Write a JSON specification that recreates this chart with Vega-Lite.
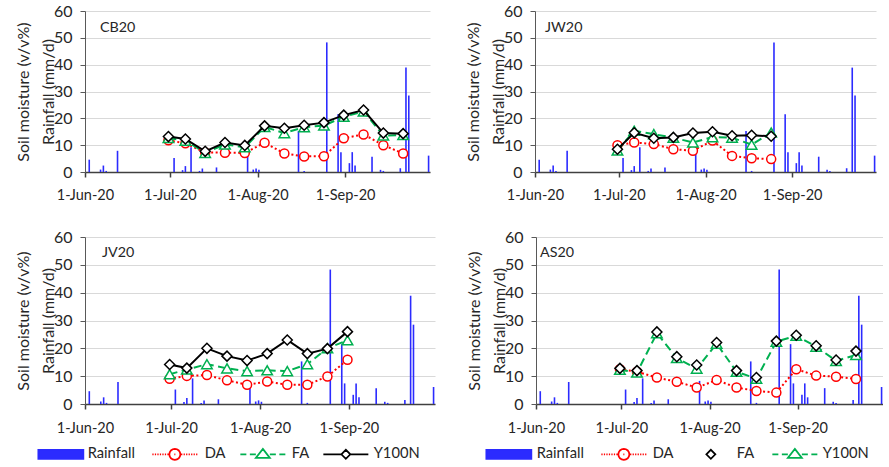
{
"$schema": "https://vega.github.io/schema/vega-lite/v6.json",
"padding": {"left": 15, "top": 3, "right": 0, "bottom": 0},
"config": {
 "font": "Lato",
 "view": {"stroke": null},
 "axis": {"labelFont": "Lato", "titleFont": "Lato", "labelColor": "#262626", "titleColor": "#262626"},
 "legend": {"labelFont": "Lato", "labelColor": "#262626", "labelFontSize": 14.7, "symbolSize": 100, "symbolStrokeWidth": 1.75, "orient": "none"},
 "title": {"font": "Lato", "color": "#262626"}
},
"datasets": {
 "rain": [
  {"date":"2020-06-02","value":4.6},{"date":"2020-06-06","value":0.9},{"date":"2020-06-07","value":2.4},{"date":"2020-06-08","value":0.4},{"date":"2020-06-12","value":7.9},
  {"date":"2020-07-02","value":5.2},{"date":"2020-07-05","value":0.7},{"date":"2020-07-06","value":2.2},{"date":"2020-07-08","value":9.2},{"date":"2020-07-11","value":0.4},
  {"date":"2020-07-12","value":1.3},{"date":"2020-07-17","value":1.7},{"date":"2020-07-28","value":8.3},{"date":"2020-07-30","value":0.9},{"date":"2020-07-31","value":1.3},
  {"date":"2020-08-01","value":0.8},{"date":"2020-08-15","value":15.3},{"date":"2020-08-17","value":0.4},{"date":"2020-08-25","value":48.3},{"date":"2020-08-29","value":21.5},
  {"date":"2020-08-30","value":7.4},{"date":"2020-09-02","value":3.3},{"date":"2020-09-03","value":7.4},{"date":"2020-09-04","value":2.4},{"date":"2020-09-10","value":5.7},
  {"date":"2020-09-13","value":0.8},{"date":"2020-09-14","value":0.4},{"date":"2020-09-20","value":1.4},{"date":"2020-09-22","value":38.9},{"date":"2020-09-23","value":28.5},
  {"date":"2020-09-30","value":6.1}
 ],
 "sm": [
  {"site":"CB20","series":"DA","date":"2020-06-30","value":11.8},{"site":"CB20","series":"DA","date":"2020-07-06","value":10.7},{"site":"CB20","series":"DA","date":"2020-07-13","value":7.3},{"site":"CB20","series":"DA","date":"2020-07-20","value":7.2},{"site":"CB20","series":"DA","date":"2020-07-27","value":7.1},{"site":"CB20","series":"DA","date":"2020-08-03","value":10.9},{"site":"CB20","series":"DA","date":"2020-08-10","value":6.9},{"site":"CB20","series":"DA","date":"2020-08-17","value":5.8},{"site":"CB20","series":"DA","date":"2020-08-24","value":5.9},{"site":"CB20","series":"DA","date":"2020-08-31","value":12.6},{"site":"CB20","series":"DA","date":"2020-09-07","value":14.0},{"site":"CB20","series":"DA","date":"2020-09-14","value":10.0},{"site":"CB20","series":"DA","date":"2020-09-21","value":6.9},
  {"site":"CB20","series":"FA","date":"2020-06-30","value":12.7},{"site":"CB20","series":"FA","date":"2020-07-06","value":11.7},{"site":"CB20","series":"FA","date":"2020-07-13","value":7.1},{"site":"CB20","series":"FA","date":"2020-07-20","value":10.3},{"site":"CB20","series":"FA","date":"2020-07-27","value":9.2},{"site":"CB20","series":"FA","date":"2020-08-03","value":16.8},{"site":"CB20","series":"FA","date":"2020-08-10","value":14.5},{"site":"CB20","series":"FA","date":"2020-08-17","value":16.7},{"site":"CB20","series":"FA","date":"2020-08-24","value":17.3},{"site":"CB20","series":"FA","date":"2020-08-31","value":20.6},{"site":"CB20","series":"FA","date":"2020-09-07","value":22.6},{"site":"CB20","series":"FA","date":"2020-09-14","value":13.6},{"site":"CB20","series":"FA","date":"2020-09-21","value":13.8},
  {"site":"CB20","series":"Y100N","date":"2020-06-30","value":13.2},{"site":"CB20","series":"Y100N","date":"2020-07-06","value":12.3},{"site":"CB20","series":"Y100N","date":"2020-07-13","value":7.7},{"site":"CB20","series":"Y100N","date":"2020-07-20","value":11.0},{"site":"CB20","series":"Y100N","date":"2020-07-27","value":9.9},{"site":"CB20","series":"Y100N","date":"2020-08-03","value":17.2},{"site":"CB20","series":"Y100N","date":"2020-08-10","value":16.3},{"site":"CB20","series":"Y100N","date":"2020-08-17","value":17.4},{"site":"CB20","series":"Y100N","date":"2020-08-24","value":18.4},{"site":"CB20","series":"Y100N","date":"2020-08-31","value":21.2},{"site":"CB20","series":"Y100N","date":"2020-09-07","value":23.1},{"site":"CB20","series":"Y100N","date":"2020-09-14","value":14.5},{"site":"CB20","series":"Y100N","date":"2020-09-21","value":14.3},
  {"site":"JW20","series":"DA","date":"2020-06-30","value":10.0},{"site":"JW20","series":"DA","date":"2020-07-06","value":11.0},{"site":"JW20","series":"DA","date":"2020-07-13","value":10.4},{"site":"JW20","series":"DA","date":"2020-07-20","value":8.5},{"site":"JW20","series":"DA","date":"2020-07-27","value":7.9},{"site":"JW20","series":"DA","date":"2020-08-03","value":11.7},{"site":"JW20","series":"DA","date":"2020-08-10","value":6.0},{"site":"JW20","series":"DA","date":"2020-08-17","value":5.1},{"site":"JW20","series":"DA","date":"2020-08-24","value":4.8},
  {"site":"JW20","series":"FA","date":"2020-06-30","value":8.0},{"site":"JW20","series":"FA","date":"2020-07-06","value":15.4},{"site":"JW20","series":"FA","date":"2020-07-13","value":14.1},{"site":"JW20","series":"FA","date":"2020-07-20","value":12.8},{"site":"JW20","series":"FA","date":"2020-07-27","value":11.0},{"site":"JW20","series":"FA","date":"2020-08-03","value":13.0},{"site":"JW20","series":"FA","date":"2020-08-10","value":12.8},{"site":"JW20","series":"FA","date":"2020-08-17","value":10.2},{"site":"JW20","series":"FA","date":"2020-08-24","value":14.7},
  {"site":"JW20","series":"Y100N","date":"2020-06-30","value":8.5},{"site":"JW20","series":"Y100N","date":"2020-07-06","value":14.6},{"site":"JW20","series":"Y100N","date":"2020-07-13","value":12.6},{"site":"JW20","series":"Y100N","date":"2020-07-20","value":12.9},{"site":"JW20","series":"Y100N","date":"2020-07-27","value":14.5},{"site":"JW20","series":"Y100N","date":"2020-08-03","value":15.0},{"site":"JW20","series":"Y100N","date":"2020-08-10","value":13.5},{"site":"JW20","series":"Y100N","date":"2020-08-17","value":13.7},{"site":"JW20","series":"Y100N","date":"2020-08-24","value":13.3},
  {"site":"JV20","series":"DA","date":"2020-06-30","value":9.1},{"site":"JV20","series":"DA","date":"2020-07-06","value":10.1},{"site":"JV20","series":"DA","date":"2020-07-13","value":10.4},{"site":"JV20","series":"DA","date":"2020-07-20","value":8.5},{"site":"JV20","series":"DA","date":"2020-07-27","value":6.9},{"site":"JV20","series":"DA","date":"2020-08-03","value":8.1},{"site":"JV20","series":"DA","date":"2020-08-10","value":6.9},{"site":"JV20","series":"DA","date":"2020-08-17","value":6.9},{"site":"JV20","series":"DA","date":"2020-08-24","value":9.9},{"site":"JV20","series":"DA","date":"2020-08-31","value":15.9},
  {"site":"JV20","series":"FA","date":"2020-06-30","value":10.7},{"site":"JV20","series":"FA","date":"2020-07-06","value":12.4},{"site":"JV20","series":"FA","date":"2020-07-13","value":14.3},{"site":"JV20","series":"FA","date":"2020-07-20","value":12.8},{"site":"JV20","series":"FA","date":"2020-07-27","value":11.8},{"site":"JV20","series":"FA","date":"2020-08-03","value":12.1},{"site":"JV20","series":"FA","date":"2020-08-10","value":11.8},{"site":"JV20","series":"FA","date":"2020-08-17","value":14.3},{"site":"JV20","series":"FA","date":"2020-08-24","value":20.0},{"site":"JV20","series":"FA","date":"2020-08-31","value":22.9},
  {"site":"JV20","series":"Y100N","date":"2020-06-30","value":14.2},{"site":"JV20","series":"Y100N","date":"2020-07-06","value":12.9},{"site":"JV20","series":"Y100N","date":"2020-07-13","value":20.0},{"site":"JV20","series":"Y100N","date":"2020-07-20","value":17.2},{"site":"JV20","series":"Y100N","date":"2020-07-27","value":15.6},{"site":"JV20","series":"Y100N","date":"2020-08-03","value":18.1},{"site":"JV20","series":"Y100N","date":"2020-08-10","value":23.0},{"site":"JV20","series":"Y100N","date":"2020-08-17","value":18.1},{"site":"JV20","series":"Y100N","date":"2020-08-24","value":19.9},{"site":"JV20","series":"Y100N","date":"2020-08-31","value":26.0},
  {"site":"AS20","series":"DA","date":"2020-06-30","value":12.5},{"site":"AS20","series":"DA","date":"2020-07-06","value":11.6},{"site":"AS20","series":"DA","date":"2020-07-13","value":9.5},{"site":"AS20","series":"DA","date":"2020-07-20","value":8.0},{"site":"AS20","series":"DA","date":"2020-07-27","value":5.9},{"site":"AS20","series":"DA","date":"2020-08-03","value":8.6},{"site":"AS20","series":"DA","date":"2020-08-10","value":5.9},{"site":"AS20","series":"DA","date":"2020-08-17","value":4.7},{"site":"AS20","series":"DA","date":"2020-08-24","value":4.1},{"site":"AS20","series":"DA","date":"2020-08-31","value":12.5},{"site":"AS20","series":"DA","date":"2020-09-07","value":10.2},{"site":"AS20","series":"DA","date":"2020-09-14","value":9.8},{"site":"AS20","series":"DA","date":"2020-09-21","value":9.0},
  {"site":"AS20","series":"FA","date":"2020-06-30","value":12.8},{"site":"AS20","series":"FA","date":"2020-07-06","value":12.0},{"site":"AS20","series":"FA","date":"2020-07-13","value":25.9},{"site":"AS20","series":"FA","date":"2020-07-20","value":17.0},{"site":"AS20","series":"FA","date":"2020-07-27","value":14.0},{"site":"AS20","series":"FA","date":"2020-08-03","value":22.1},{"site":"AS20","series":"FA","date":"2020-08-10","value":12.0},{"site":"AS20","series":"FA","date":"2020-08-17","value":9.5},{"site":"AS20","series":"FA","date":"2020-08-24","value":22.6},{"site":"AS20","series":"FA","date":"2020-08-31","value":24.7},{"site":"AS20","series":"FA","date":"2020-09-07","value":20.9},{"site":"AS20","series":"FA","date":"2020-09-14","value":15.8},{"site":"AS20","series":"FA","date":"2020-09-21","value":19.0},
  {"site":"AS20","series":"Y100N","date":"2020-06-30","value":12.3},{"site":"AS20","series":"Y100N","date":"2020-07-06","value":11.3},{"site":"AS20","series":"Y100N","date":"2020-07-13","value":25.4},{"site":"AS20","series":"Y100N","date":"2020-07-20","value":16.5},{"site":"AS20","series":"Y100N","date":"2020-07-27","value":12.7},{"site":"AS20","series":"Y100N","date":"2020-08-03","value":21.7},{"site":"AS20","series":"Y100N","date":"2020-08-10","value":11.6},{"site":"AS20","series":"Y100N","date":"2020-08-17","value":9.1},{"site":"AS20","series":"Y100N","date":"2020-08-24","value":22.4},{"site":"AS20","series":"Y100N","date":"2020-08-31","value":24.5},{"site":"AS20","series":"Y100N","date":"2020-09-07","value":20.6},{"site":"AS20","series":"Y100N","date":"2020-09-14","value":15.5},{"site":"AS20","series":"Y100N","date":"2020-09-21","value":17.6}
 ]
},
"vconcat": [
 {"hconcat": [
  {"width": 345, "height": 161,
   "title": {"text": "CB20", "anchor": "start", "frame": "group", "offset": -32, "dx": 15, "fontSize": 14.3, "fontWeight": "normal"},
   "encoding": {
    "x": {"field": "date", "type": "temporal", "timeUnit": "utcyearmonthdate", "bandPosition": 0.5,
     "scale": {"type": "utc", "domain": [{"year":2020,"month":6,"date":1,"utc":true},{"year":2020,"month":10,"date":1,"utc":true}], "nice": false},
     "axis": {"values": [{"year":2020,"month":6,"date":1,"utc":true},{"year":2020,"month":7,"date":1,"utc":true},{"year":2020,"month":8,"date":1,"utc":true},{"year":2020,"month":9,"date":1,"utc":true}], "labelExpr": "utcFormat(datum.value, '%-d-%b-%y')", "title": null, "grid": false, "labelFontSize": 14.5, "tickSize": 5, "labelPadding": 11, "domainWidth": 1.5, "domainColor": "#404040", "tickColor": "#404040", "tickWidth": 1.5, "labelOverlap": false, "labelFlush": false}},
    "y": {"field": "value", "type": "quantitative", "scale": {"domain": [0, 60], "nice": false},
     "axis": {"values": [0,10,20,30,40,50,60], "title": ["Soil moisture (v/v%)", "Rainfall (mm/d)"], "titleFontSize": 16, "titleFontWeight": "normal", "titleLineHeight": 25, "titlePadding": -3, "labelFontSize": 16, "labelPadding": 8, "tickSize": 5, "grid": true, "gridColor": "#d9d9d9", "domainColor": "#595959", "tickColor": "#595959"}}
   },
   "layer": [
    {"data": {"name": "rain"}, "mark": {"type": "rule", "stroke": "#2b2bff", "strokeWidth": 1.6}, "encoding": {"y2": {"datum": 0}}},
    {"data": {"name": "sm"}, "transform": [{"filter": "datum.site=='CB20'&&datum.series=='DA'"}], "mark": {"type": "line", "stroke": "#ff0000", "strokeWidth": 2, "strokeDash": [2, 2.5]}, "encoding": {}},
    {"data": {"name": "sm"}, "transform": [{"filter": "datum.site=='CB20'&&datum.series=='DA'"}], "mark": {"type": "point", "shape": "circle", "size": 81, "filled": true, "fill": "#ffffff", "stroke": "#ff0000", "strokeWidth": 1.5, "opacity": 1}},
    {"data": {"name": "sm"}, "transform": [{"filter": "datum.site=='CB20'&&datum.series=='FA'"}], "mark": {"type": "line", "stroke": "#00b050", "strokeWidth": 2, "strokeDash": [8, 4.5]}, "encoding": {}},
    {"data": {"name": "sm"}, "transform": [{"filter": "datum.site=='CB20'&&datum.series=='FA'"}], "mark": {"type": "point", "shape": "triangle-up", "size": 110, "filled": true, "fill": "#ffffff", "stroke": "#00b050", "strokeWidth": 1.5, "opacity": 1}},
    {"data": {"name": "sm"}, "transform": [{"filter": "datum.site=='CB20'&&datum.series=='Y100N'"}], "mark": {"type": "line", "stroke": "#000000", "strokeWidth": 2}, "encoding": {}},
    {"data": {"name": "sm"}, "transform": [{"filter": "datum.site=='CB20'&&datum.series=='Y100N'"}], "mark": {"type": "point", "shape": "diamond", "size": 100, "filled": true, "fill": "#ffffff", "stroke": "#000000", "strokeWidth": 1.5, "opacity": 1}}
   ]
  },
  {"width": 341, "height": 161,
   "title": {"text": "JW20", "anchor": "start", "frame": "group", "offset": -32, "dx": 10, "fontSize": 14.3, "fontWeight": "normal"},
   "encoding": {
    "x": {"field": "date", "type": "temporal", "timeUnit": "utcyearmonthdate", "bandPosition": 0.5,
     "scale": {"type": "utc", "domain": [{"year":2020,"month":6,"date":1,"utc":true},{"year":2020,"month":10,"date":1,"utc":true}], "nice": false},
     "axis": {"values": [{"year":2020,"month":6,"date":1,"utc":true},{"year":2020,"month":7,"date":1,"utc":true},{"year":2020,"month":8,"date":1,"utc":true},{"year":2020,"month":9,"date":1,"utc":true}], "labelExpr": "utcFormat(datum.value, '%-d-%b-%y')", "title": null, "grid": false, "labelFontSize": 14.5, "tickSize": 5, "labelPadding": 11, "domainWidth": 1.5, "domainColor": "#404040", "tickColor": "#404040", "tickWidth": 1.5, "labelOverlap": false, "labelFlush": false}},
    "y": {"field": "value", "type": "quantitative", "scale": {"domain": [0, 60], "nice": false},
     "axis": {"values": [0,10,20,30,40,50,60], "title": ["Soil moisture (v/v%)", "Rainfall (mm/d)"], "titleFontSize": 16, "titleFontWeight": "normal", "titleLineHeight": 25, "titlePadding": -3, "labelFontSize": 16, "labelPadding": 8, "tickSize": 5, "grid": true, "gridColor": "#d9d9d9", "domainColor": "#595959", "tickColor": "#595959"}}
   },
   "layer": [
    {"data": {"name": "rain"}, "mark": {"type": "rule", "stroke": "#2b2bff", "strokeWidth": 1.6}, "encoding": {"y2": {"datum": 0}}},
    {"data": {"name": "sm"}, "transform": [{"filter": "datum.site=='JW20'&&datum.series=='DA'"}], "mark": {"type": "line", "stroke": "#ff0000", "strokeWidth": 2, "strokeDash": [2, 2.5]}, "encoding": {}},
    {"data": {"name": "sm"}, "transform": [{"filter": "datum.site=='JW20'&&datum.series=='DA'"}], "mark": {"type": "point", "shape": "circle", "size": 81, "filled": true, "fill": "#ffffff", "stroke": "#ff0000", "strokeWidth": 1.5, "opacity": 1}},
    {"data": {"name": "sm"}, "transform": [{"filter": "datum.site=='JW20'&&datum.series=='FA'"}], "mark": {"type": "line", "stroke": "#00b050", "strokeWidth": 2, "strokeDash": [8, 4.5]}, "encoding": {}},
    {"data": {"name": "sm"}, "transform": [{"filter": "datum.site=='JW20'&&datum.series=='FA'"}], "mark": {"type": "point", "shape": "triangle-up", "size": 110, "filled": true, "fill": "#ffffff", "stroke": "#00b050", "strokeWidth": 1.5, "opacity": 1}},
    {"data": {"name": "sm"}, "transform": [{"filter": "datum.site=='JW20'&&datum.series=='Y100N'"}], "mark": {"type": "line", "stroke": "#000000", "strokeWidth": 2}, "encoding": {}},
    {"data": {"name": "sm"}, "transform": [{"filter": "datum.site=='JW20'&&datum.series=='Y100N'"}], "mark": {"type": "point", "shape": "diamond", "size": 100, "filled": true, "fill": "#ffffff", "stroke": "#000000", "strokeWidth": 1.5, "opacity": 1}}
   ]
  }
 ], "spacing": 35},
 {"hconcat": [
  {"width": 350, "height": 167,
   "title": {"text": "JV20", "anchor": "start", "frame": "group", "offset": -31, "dx": 17, "fontSize": 14.3, "fontWeight": "normal"},
   "encoding": {
    "x": {"field": "date", "type": "temporal", "timeUnit": "utcyearmonthdate", "bandPosition": 0.5,
     "scale": {"type": "utc", "domain": [{"year":2020,"month":6,"date":1,"utc":true},{"year":2020,"month":10,"date":1,"utc":true}], "nice": false},
     "axis": {"values": [{"year":2020,"month":6,"date":1,"utc":true},{"year":2020,"month":7,"date":1,"utc":true},{"year":2020,"month":8,"date":1,"utc":true},{"year":2020,"month":9,"date":1,"utc":true}], "labelExpr": "utcFormat(datum.value, '%-d-%b-%y')", "title": null, "grid": false, "labelFontSize": 14.5, "tickSize": 5, "labelPadding": 12, "domainWidth": 1.5, "domainColor": "#404040", "tickColor": "#404040", "tickWidth": 1.5, "labelOverlap": false, "labelFlush": false}},
    "y": {"field": "value", "type": "quantitative", "scale": {"domain": [0, 60], "nice": false},
     "axis": {"values": [0,10,20,30,40,50,60], "title": ["Soil moisture (v/v%)", "Rainfall (mm/d)"], "titleFontSize": 16, "titleFontWeight": "normal", "titleLineHeight": 25, "titlePadding": -3, "labelFontSize": 16, "labelPadding": 8, "tickSize": 5, "grid": true, "gridColor": "#d9d9d9", "domainColor": "#595959", "tickColor": "#595959"}}
   },
   "layer": [
    {"data": {"name": "rain"}, "mark": {"type": "rule", "stroke": "#2b2bff", "strokeWidth": 1.6}, "encoding": {"y2": {"datum": 0}}},
    {"data": {"name": "sm"}, "transform": [{"filter": "datum.site=='JV20'&&datum.series=='DA'"}], "mark": {"type": "line", "stroke": "#ff0000", "strokeWidth": 2, "strokeDash": [2, 2.5]}, "encoding": {}},
    {"data": {"name": "sm"}, "transform": [{"filter": "datum.site=='JV20'&&datum.series=='DA'"}], "mark": {"type": "point", "shape": "circle", "size": 81, "filled": true, "fill": "#ffffff", "stroke": "#ff0000", "strokeWidth": 1.5, "opacity": 1}},
    {"data": {"name": "sm"}, "transform": [{"filter": "datum.site=='JV20'&&datum.series=='FA'"}], "mark": {"type": "line", "stroke": "#00b050", "strokeWidth": 2, "strokeDash": [8, 4.5]}, "encoding": {}},
    {"data": {"name": "sm"}, "transform": [{"filter": "datum.site=='JV20'&&datum.series=='FA'"}], "mark": {"type": "point", "shape": "triangle-up", "size": 110, "filled": true, "fill": "#ffffff", "stroke": "#00b050", "strokeWidth": 1.5, "opacity": 1}},
    {"data": {"name": "sm"}, "transform": [{"filter": "datum.site=='JV20'&&datum.series=='Y100N'"}], "mark": {"type": "line", "stroke": "#000000", "strokeWidth": 2}, "encoding": {}},
    {"data": {"name": "sm"}, "transform": [{"filter": "datum.site=='JV20'&&datum.series=='Y100N'"}], "mark": {"type": "point", "shape": "diamond", "size": 100, "filled": true, "fill": "#ffffff", "stroke": "#000000", "strokeWidth": 1.5, "opacity": 1}},
    {"data": {"name": "sm"}, "transform": [{"filter": "false"}], "mark": {"type": "point", "opacity": 1, "filled": true},
     "encoding": {
      "fill": {"field": "series", "type": "nominal", "scale": {"domain": ["Rainfall"], "range": ["#2b2bff"]}, "legend": {"title": null, "orient": "none", "legendX": -49, "legendY": 210, "labelOffset": 37}},
      "stroke": {"field": "series", "type": "nominal", "scale": {"domain": ["Rainfall"], "range": ["#2b2bff"]}, "legend": {"title": null, "orient": "none", "legendX": -49, "legendY": 210, "labelOffset": 37}},
      "shape": {"field": "series", "type": "nominal", "scale": {"domain": ["Rainfall"], "range": ["M-1,-0.9L8,-0.9L8,0.9L-1,0.9Z"]}, "legend": {"title": null, "orient": "none", "legendX": -49, "legendY": 210, "labelOffset": 37}}
     }},
    {"data": {"name": "sm"}, "transform": [{"filter": "false"}], "mark": {"type": "point", "opacity": 1, "filled": true},
     "encoding": {
      "fill": {"field": "series", "type": "nominal", "scale": {"domain": ["DA"], "range": ["#ffffff"]}, "legend": {"title": null, "orient": "none", "legendX": 65, "legendY": 210, "labelOffset": 40}},
      "stroke": {"field": "series", "type": "nominal", "scale": {"domain": ["DA"], "range": ["#ff0000"]}, "legend": {"title": null, "orient": "none", "legendX": 65, "legendY": 210, "labelOffset": 40}},
      "shape": {"field": "series", "type": "nominal", "scale": {"domain": ["DA"], "range": ["M-1,0L-0.75,0M-0.5,0L-0.25,0M0,0L0.25,0M0.5,0L0.75,0M1,0L1.25,0M1.5,0L1.75,0M2,0L2.25,0M4.75,0L5,0M5.25,0L5.5,0M5.75,0L6,0M6.25,0L6.5,0M6.75,0L7,0M7.25,0L7.5,0M7.75,0L8,0M4.6,0L4.52,0.42L4.28,0.78L3.92,1.02L3.5,1.1L3.08,1.02L2.72,0.78L2.48,0.42L2.4,0L2.48,-0.42L2.72,-0.78L3.08,-1.02L3.5,-1.1L3.92,-1.02L4.28,-0.78L4.52,-0.42ZM3.4,0L3.6,0"]}, "legend": {"title": null, "orient": "none", "legendX": 65, "legendY": 210, "labelOffset": 40}}
     }},
    {"data": {"name": "sm"}, "transform": [{"filter": "false"}], "mark": {"type": "point", "opacity": 1, "filled": true},
     "encoding": {
      "fill": {"field": "series", "type": "nominal", "scale": {"domain": ["FA"], "range": ["#ffffff"]}, "legend": {"title": null, "orient": "none", "legendX": 153, "legendY": 210, "labelOffset": 39}},
      "stroke": {"field": "series", "type": "nominal", "scale": {"domain": ["FA"], "range": ["#00b050"]}, "legend": {"title": null, "orient": "none", "legendX": 153, "legendY": 210, "labelOffset": 39}},
      "shape": {"field": "series", "type": "nominal", "scale": {"domain": ["FA"], "range": ["M-1,0L0.2,0M0.9,0L2.1,0M4.9,0L6.1,0M6.8,0L8,0M3.5,-1.1L4.9,0.7L2.1,0.7Z"]}, "legend": {"title": null, "orient": "none", "legendX": 153, "legendY": 210, "labelOffset": 39}}
     }},
    {"data": {"name": "sm"}, "transform": [{"filter": "false"}], "mark": {"type": "point", "opacity": 1, "filled": true},
     "encoding": {
      "fill": {"field": "series", "type": "nominal", "scale": {"domain": ["Y100N"], "range": ["#ffffff"]}, "legend": {"title": null, "orient": "none", "legendX": 236, "legendY": 210, "labelOffset": 38}},
      "stroke": {"field": "series", "type": "nominal", "scale": {"domain": ["Y100N"], "range": ["#000000"]}, "legend": {"title": null, "orient": "none", "legendX": 236, "legendY": 210, "labelOffset": 38}},
      "shape": {"field": "series", "type": "nominal", "scale": {"domain": ["Y100N"], "range": ["M-1,0L2.6,0M4.4,0L8,0M2.6,0L3.5,-0.9L4.4,0L3.5,0.9Z"]}, "legend": {"title": null, "orient": "none", "legendX": 236, "legendY": 210, "labelOffset": 38}}
     }}
   ],
   "resolve": {"scale": {"fill": "independent", "stroke": "independent", "shape": "independent"}, "legend": {"fill": "independent", "stroke": "independent", "shape": "independent"}}
  },
  {"width": 347, "height": 167,
   "title": {"text": "AS20", "anchor": "start", "frame": "group", "offset": -31, "dx": 4, "fontSize": 14.3, "fontWeight": "normal"},
   "encoding": {
    "x": {"field": "date", "type": "temporal", "timeUnit": "utcyearmonthdate", "bandPosition": 0.5,
     "scale": {"type": "utc", "domain": [{"year":2020,"month":6,"date":1,"utc":true},{"year":2020,"month":10,"date":1,"utc":true}], "nice": false},
     "axis": {"values": [{"year":2020,"month":6,"date":1,"utc":true},{"year":2020,"month":7,"date":1,"utc":true},{"year":2020,"month":8,"date":1,"utc":true},{"year":2020,"month":9,"date":1,"utc":true}], "labelExpr": "utcFormat(datum.value, '%-d-%b-%y')", "title": null, "grid": false, "labelFontSize": 14.5, "tickSize": 5, "labelPadding": 12, "domainWidth": 1.5, "domainColor": "#404040", "tickColor": "#404040", "tickWidth": 1.5, "labelOverlap": false, "labelFlush": false}},
    "y": {"field": "value", "type": "quantitative", "scale": {"domain": [0, 60], "nice": false},
     "axis": {"values": [0,10,20,30,40,50,60], "title": ["Soil moisture (v/v%)", "Rainfall (mm/d)"], "titleFontSize": 16, "titleFontWeight": "normal", "titleLineHeight": 25, "titlePadding": -3, "labelFontSize": 16, "labelPadding": 8, "tickSize": 5, "grid": true, "gridColor": "#d9d9d9", "domainColor": "#595959", "tickColor": "#595959"}}
   },
   "layer": [
    {"data": {"name": "rain"}, "mark": {"type": "rule", "stroke": "#2b2bff", "strokeWidth": 1.6}, "encoding": {"y2": {"datum": 0}}},
    {"data": {"name": "sm"}, "transform": [{"filter": "datum.site=='AS20'&&datum.series=='DA'"}], "mark": {"type": "line", "stroke": "#ff0000", "strokeWidth": 2, "strokeDash": [2, 2.5]}, "encoding": {}},
    {"data": {"name": "sm"}, "transform": [{"filter": "datum.site=='AS20'&&datum.series=='DA'"}], "mark": {"type": "point", "shape": "circle", "size": 81, "filled": true, "fill": "#ffffff", "stroke": "#ff0000", "strokeWidth": 1.5, "opacity": 1}},
    {"data": {"name": "sm"}, "transform": [{"filter": "datum.site=='AS20'&&datum.series=='Y100N'"}], "mark": {"type": "line", "stroke": "#00b050", "strokeWidth": 2, "strokeDash": [8, 4.5]}, "encoding": {}},
    {"data": {"name": "sm"}, "transform": [{"filter": "datum.site=='AS20'&&datum.series=='Y100N'"}], "mark": {"type": "point", "shape": "triangle-up", "size": 110, "filled": true, "fill": "#ffffff", "stroke": "#00b050", "strokeWidth": 1.5, "opacity": 1}},
    {"data": {"name": "sm"}, "transform": [{"filter": "datum.site=='AS20'&&datum.series=='FA'"}], "mark": {"type": "point", "shape": "diamond", "size": 100, "filled": true, "fill": "#ffffff", "stroke": "#000000", "strokeWidth": 1.5, "opacity": 1}},
    {"data": {"name": "sm"}, "transform": [{"filter": "false"}], "mark": {"type": "point", "opacity": 1, "filled": true},
     "encoding": {
      "fill": {"field": "series", "type": "nominal", "scale": {"domain": ["Rainfall"], "range": ["#2b2bff"]}, "legend": {"title": null, "orient": "none", "legendX": -52, "legendY": 210, "labelOffset": 38}},
      "stroke": {"field": "series", "type": "nominal", "scale": {"domain": ["Rainfall"], "range": ["#2b2bff"]}, "legend": {"title": null, "orient": "none", "legendX": -52, "legendY": 210, "labelOffset": 38}},
      "shape": {"field": "series", "type": "nominal", "scale": {"domain": ["Rainfall"], "range": ["M-1,-0.9L8,-0.9L8,0.9L-1,0.9Z"]}, "legend": {"title": null, "orient": "none", "legendX": -52, "legendY": 210, "labelOffset": 38}}
     }},
    {"data": {"name": "sm"}, "transform": [{"filter": "false"}], "mark": {"type": "point", "opacity": 1, "filled": true},
     "encoding": {
      "fill": {"field": "series", "type": "nominal", "scale": {"domain": ["DA"], "range": ["#ffffff"]}, "legend": {"title": null, "orient": "none", "legendX": 63, "legendY": 210, "labelOffset": 39}},
      "stroke": {"field": "series", "type": "nominal", "scale": {"domain": ["DA"], "range": ["#ff0000"]}, "legend": {"title": null, "orient": "none", "legendX": 63, "legendY": 210, "labelOffset": 39}},
      "shape": {"field": "series", "type": "nominal", "scale": {"domain": ["DA"], "range": ["M-1,0L-0.75,0M-0.5,0L-0.25,0M0,0L0.25,0M0.5,0L0.75,0M1,0L1.25,0M1.5,0L1.75,0M2,0L2.25,0M4.75,0L5,0M5.25,0L5.5,0M5.75,0L6,0M6.25,0L6.5,0M6.75,0L7,0M7.25,0L7.5,0M7.75,0L8,0M4.6,0L4.52,0.42L4.28,0.78L3.92,1.02L3.5,1.1L3.08,1.02L2.72,0.78L2.48,0.42L2.4,0L2.48,-0.42L2.72,-0.78L3.08,-1.02L3.5,-1.1L3.92,-1.02L4.28,-0.78L4.52,-0.42ZM3.4,0L3.6,0"]}, "legend": {"title": null, "orient": "none", "legendX": 63, "legendY": 210, "labelOffset": 39}}
     }},
    {"data": {"name": "sm"}, "transform": [{"filter": "false"}], "mark": {"type": "point", "opacity": 1, "filled": true},
     "encoding": {
      "fill": {"field": "series", "type": "nominal", "scale": {"domain": ["FA"], "range": ["#ffffff"]}, "legend": {"title": null, "orient": "none", "legendX": 150, "legendY": 210, "labelOffset": 36}},
      "stroke": {"field": "series", "type": "nominal", "scale": {"domain": ["FA"], "range": ["#000000"]}, "legend": {"title": null, "orient": "none", "legendX": 150, "legendY": 210, "labelOffset": 36}},
      "shape": {"field": "series", "type": "nominal", "scale": {"domain": ["FA"], "range": ["M2.6,0L3.5,-0.9L4.4,0L3.5,0.9Z"]}, "legend": {"title": null, "orient": "none", "legendX": 150, "legendY": 210, "labelOffset": 36}}
     }},
    {"data": {"name": "sm"}, "transform": [{"filter": "false"}], "mark": {"type": "point", "opacity": 1, "filled": true},
     "encoding": {
      "fill": {"field": "series", "type": "nominal", "scale": {"domain": ["Y100N"], "range": ["#ffffff"]}, "legend": {"title": null, "orient": "none", "legendX": 234, "legendY": 210, "labelOffset": 38}},
      "stroke": {"field": "series", "type": "nominal", "scale": {"domain": ["Y100N"], "range": ["#00b050"]}, "legend": {"title": null, "orient": "none", "legendX": 234, "legendY": 210, "labelOffset": 38}},
      "shape": {"field": "series", "type": "nominal", "scale": {"domain": ["Y100N"], "range": ["M-1,0L0.2,0M0.9,0L2.1,0M4.9,0L6.1,0M6.8,0L8,0M3.5,-1.1L4.9,0.7L2.1,0.7Z"]}, "legend": {"title": null, "orient": "none", "legendX": 234, "legendY": 210, "labelOffset": 38}}
     }}
   ],
   "resolve": {"scale": {"fill": "independent", "stroke": "independent", "shape": "independent"}, "legend": {"fill": "independent", "stroke": "independent", "shape": "independent"}}
  }
 ], "spacing": 31,
 "resolve": {"scale": {"fill": "independent", "stroke": "independent", "shape": "independent"}, "legend": {"fill": "independent", "stroke": "independent", "shape": "independent"}}}
],
"spacing": 27,
"resolve": {"scale": {"fill": "independent", "stroke": "independent", "shape": "independent"}, "legend": {"fill": "independent", "stroke": "independent", "shape": "independent"}}
}
